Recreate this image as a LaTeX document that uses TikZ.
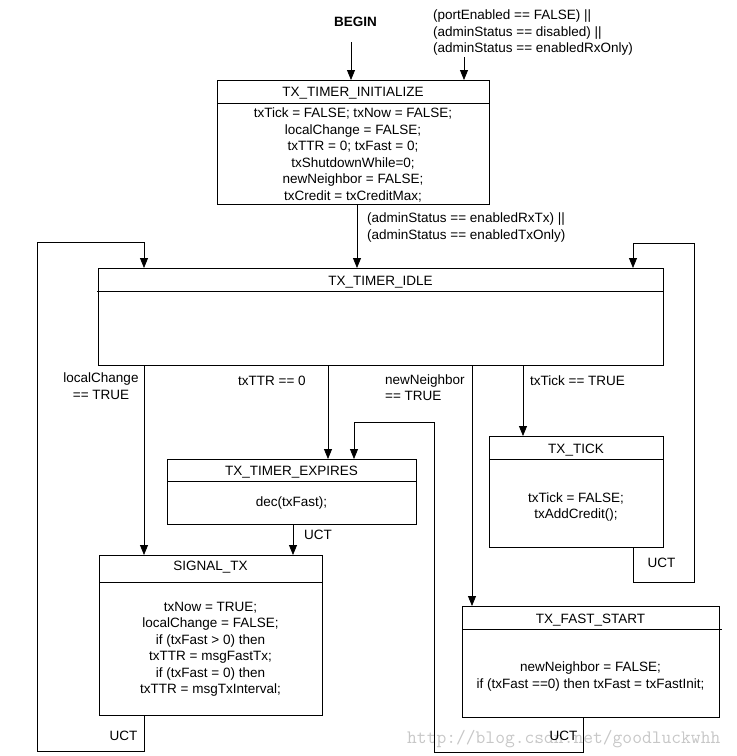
\documentclass[tikz,border=0pt]{standalone}
\usepackage{fontspec}
\setmainfont{Liberation Sans}
\usetikzlibrary{arrows.meta}
\begin{document}
\begin{tikzpicture}[x=1pt,y=-1pt,
  state/.style={draw, line width=0.8pt, rectangle, inner sep=0pt, anchor=north west},
  txt/.style={font=\fontsize{13.5}{16.5}\selectfont, inner sep=0pt, align=center},
  arr/.style={draw, line width=0.8pt, -{Triangle[length=10pt,width=8pt]}},
  ln/.style={line width=0.8pt}]
\useasboundingbox (0,0) rectangle (737,756);

% watermark
\node[font=\fontsize{19}{19}\selectfont\ttfamily, text=black!22, anchor=base west, inner sep=0pt] (wm) at (407,743) {http://blog.csdn.net/goodluckwhh};

% states
\node[state, minimum width=272pt, minimum height=124pt] (init) at (217,80) {};
\draw[ln] (217,103) -- (489,103);
\node[txt] (initT) at (353,93.5) {\strut TX\_TIMER\_INITIALIZE};
\node[txt] (initB) at (353,155.5) {\strut txTick = FALSE; txNow = FALSE;\\\strut localChange = FALSE;\\\strut txTTR = 0; txFast = 0;\\\strut txShutdownWhile=0;\\\strut newNeighbor = FALSE;\\\strut txCredit = txCreditMax;};

\node[state, minimum width=565pt, minimum height=97pt] (idle) at (98,268) {};
\draw[ln] (97,291) -- (663,291);
\node[txt] (idleT) at (380.5,282.5) {\strut TX\_TIMER\_IDLE};

\node[state, minimum width=249pt, minimum height=65pt] (expires) at (167,459) {};
\draw[ln] (167,481) -- (416,481);
\node[txt] (expT) at (291.5,472.5) {\strut TX\_TIMER\_EXPIRES};
\node[txt] (expB) at (291.5,503.5) {\strut dec(txFast);};

\node[state, minimum width=223pt, minimum height=160pt] (signal) at (99,555) {};
\draw[ln] (99,582) -- (322,582);
\node[txt] (sigT) at (210.5,567.5) {\strut SIGNAL\_TX};
\node[txt] (sigB) at (210.5,649) {\strut txNow = TRUE;\\\strut localChange = FALSE;\\\strut if (txFast > 0) then\\\strut txTTR = msgFastTx;\\\strut if (txFast = 0) then\\\strut txTTR = msgTxInterval;};

\node[state, minimum width=174pt, minimum height=111pt] (tick) at (489,436) {};
\draw[ln] (489,459) -- (663,459);
\node[txt] (tickT) at (576,450.5) {\strut TX\_TICK};
\node[txt] (tickB) at (576,507) {\strut txTick = FALSE;\\\strut txAddCredit();};

\node[state, minimum width=257pt, minimum height=111pt] (fast) at (462,606) {};
\draw[ln] (462,629) -- (722,629);
\node[txt] (fastT) at (590.5,620.5) {\strut TX\_FAST\_START};
\node[txt] (fastB) at (590.5,676.5) {\strut newNeighbor = FALSE;\\\strut if (txFast ==0) then txFast = txFastInit;};

% labels
\node[txt, font=\fontsize{13.5}{16.5}\selectfont\bfseries] (begin) at (355.5,23.5) {\strut BEGIN};
\node[txt, align=left, anchor=west] (cond1) at (433,33) {\strut (portEnabled == FALSE) ||\\\strut (adminStatus == disabled) ||\\\strut (adminStatus == enabledRxOnly)};
\node[txt, align=left, anchor=west] (cond2) at (367,227.5) {\strut (adminStatus == enabledRxTx) ||\\\strut (adminStatus == enabledTxOnly)};
\node[txt] (lcl) at (101,387.5) {\strut localChange\\\strut == TRUE};
\node[txt, anchor=west] (ttl) at (238,382.5) {\strut txTTR == 0};
\node[txt, align=left, anchor=west] (nnl) at (385,389) {\strut newNeighbor\\\strut == TRUE};
\node[txt, anchor=west] (tkl) at (530,382.5) {\strut txTick == TRUE};
\node[txt, anchor=west] (uct1) at (304,536.5) {\strut UCT};
\node[txt] (uct2) at (661.5,564.5) {\strut UCT};
\node[txt] (uct3) at (123.5,737.5) {\strut UCT};
\node[txt] (uct4) at (563.5,737.5) {\strut UCT};

% connector coordinates
\coordinate (b0) at (351,42);
\coordinate (c0) at (464,57);
\coordinate (x357) at (357,0);
\coordinate (x144) at (144,0);
\coordinate (x328) at (328,0);
\coordinate (x472) at (472,0);
\coordinate (x523) at (523,0);
\coordinate (x293) at (293,0);
\coordinate (sl1) at (37,751);
\coordinate (sl2) at (37,242);
\coordinate (sl3) at (144,242);
\coordinate (tl1) at (694,582);
\coordinate (tl2) at (694,243);
\coordinate (tl3) at (633,243);
\coordinate (fl1) at (434,752);
\coordinate (fl2) at (434,422);
\coordinate (fl3) at (354,422);
\coordinate (fX) at (583,0);

% connectors
\draw[arr] (b0) -- (b0 |- init.north);
\draw[arr] (c0) -- (c0 |- init.north);
\draw[arr] (init.south -| x357) -- (idle.north -| x357);
\draw[arr] (idle.south -| x144) -- (signal.north -| x144);
\draw[arr] (idle.south -| x328) -- (expires.north -| x328);
\draw[arr] (idle.south -| x472) -- (fast.north -| x472);
\draw[arr] (idle.south -| x523) -- (tick.north -| x523);
\draw[arr] (expires.south -| x293) -- (signal.north -| x293);
\draw[arr] (signal.south -| sl3) |- (sl1) -- (sl2) -- (sl3) -- (idle.north -| sl3);
\draw[arr] (tick.south -| tl3) |- (tl1) -- (tl2) -- (tl3) -- (idle.north -| tl3);
\draw[arr] (fast.south -| fX) |- (fl1) -- (fl2) -- (fl3) -- (expires.north -| fl3);
\end{tikzpicture}
\end{document}
